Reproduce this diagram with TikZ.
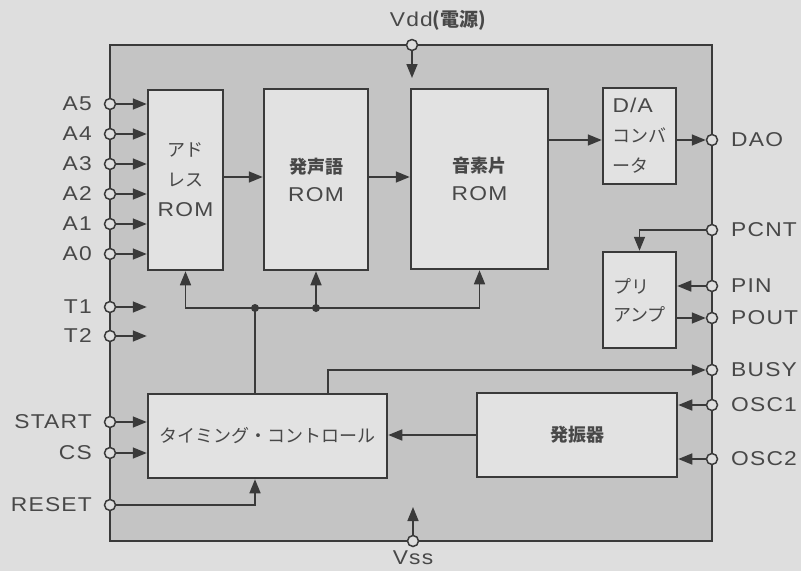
\documentclass[tikz,border=0pt]{standalone}
\usepackage{fontspec}
\setmainfont{Liberation Sans}[LetterSpace=6,FakeStretch=1.14]
\newfontfamily\jp{Noto Sans CJK JP}
\usepackage{tikz}
\usetikzlibrary{arrows.meta}
\definecolor{paper}{RGB}{222,222,222}
\definecolor{chipbg}{RGB}{196,196,196}
\definecolor{boxbg}{RGB}{226,226,226}
\definecolor{ink}{RGB}{58,58,58}
\definecolor{txt}{RGB}{72,72,72}

\tikzset{
  term/.style={circle,draw=ink,fill=paper,line width=1.5pt,minimum size=11pt,inner sep=0pt},
  blk/.style={draw=ink,fill=boxbg,line width=2.5pt,inner sep=0pt,text=txt,
    font=\jp\fontsize{18}{30}\selectfont},
  wire/.style={ink,line width=1.6pt},
  arr/.style={wire,-{Triangle[length=14pt,width=11pt]}},
  lbl/.style={text=txt,font=\fontsize{20}{20}\selectfont,inner sep=0pt},
}

\begin{document}
\begin{tikzpicture}[x=1pt,y=-1pt]
\useasboundingbox (0,0) rectangle (801,571);
\fill[paper] (0,0) rectangle (801,571);
% chip outline
\draw[wire,fill=chipbg] (110,45) rectangle (712,541);

% blocks
\node[blk,minimum width=75pt,minimum height=180pt,align=center] (addr) at (185.5,180)
  {アド\\レス\\{\rmfamily\fontsize{20}{30}\selectfont ROM}};
\node[blk,minimum width=104pt,minimum height=181pt,align=center] (wrd) at (316,179.5)
  {{\bfseries 発声語}\\[-2pt]{\rmfamily\fontsize{20}{30}\selectfont ROM}};
\node[blk,minimum width=137pt,minimum height=180pt,align=center] (snd) at (479.5,179)
  {{\bfseries 音素片}\\[-2pt]{\rmfamily\fontsize{20}{30}\selectfont ROM}};
\node[blk,minimum width=73pt,minimum height=96pt,align=left] (da) at (639.5,136)
  {{\rmfamily\fontsize{20}{30}\selectfont D/A}\\コンバ\\ータ};
\node[blk,minimum width=73pt,minimum height=96pt,align=left] (pre) at (639.5,300)
  {プリ\\[-2pt]アンプ};
\node[blk,minimum width=239pt,minimum height=84pt] (tc) at (267.5,436)
  {タイミング・コントロール};
\node[blk,minimum width=200pt,minimum height=84pt] (osc) at (577,435)
  {\bfseries 発振器};

% left side
\foreach \n/\y in {A5/104,A4/134,A3/164,A2/194,A1/224,A0/254}{
  \node[term] (\n) at (110,\y) {};
  \node[lbl,anchor=east] (l\n) at (92,\y) {\n};
  \draw[arr] (\n) -- (\n -| addr.west);
}
\foreach \n/\y in {T1/307,T2/336}{
  \node[term] (\n) at (110,\y) {};
  \node[lbl,anchor=east] (l\n) at (92,\y) {\n};
  \draw[arr] (\n) -- (\n -| addr.west);
}
\foreach \n/\y in {START/422,CS/453}{
  \node[term] (\n) at (110,\y) {};
  \node[lbl,anchor=east] (l\n) at (92,\y) {\n};
  \draw[arr] (\n) -- (\n -| tc.west);
}
\node[term] (RESET) at (110,505) {};
\node[lbl,anchor=east] (lRESET) at (92,505) {RESET};

% right side
\foreach \n/\y in {DAO/140,PCNT/230,PIN/286,POUT/318,BUSY/370,OSC1/405,OSC2/459}{
  \node[term] (\n) at (712,\y) {};
  \node[lbl,anchor=west] (l\n) at (731,\y) {\n};
}

% supply
\node[term] (vdd) at (412,45) {};
\node[lbl] (lvdd) at (438,20) {Vdd{\jp\bfseries\fontsize{19}{20}\selectfont (電源)}};
\coordinate (vddin) at (412,78);
\draw[arr] (vdd) -- (vddin);
\node[term] (vss) at (413,541) {};
\node[lbl] (lvss) at (413,558) {Vss};
\coordinate (vssin) at (413,507);
\draw[arr] (vss) -- (vssin);

% data path
\draw[arr] (addr.east |- 0,177) -- (wrd.west |- 0,177);
\draw[arr] (wrd.east |- 0,177) -- (snd.west |- 0,177);
\draw[arr] (snd.east |- DAO) -- (da.west |- DAO);
\draw[arr] (da.east |- DAO) -- (DAO);
\draw[arr] (PCNT) -| (pre.north);
\draw[arr] (PIN) -- (PIN -| pre.east);
\draw[arr] (pre.east |- POUT) -- (POUT);

% control bus
\coordinate (bus) at (255,308);
\draw[wire] (bus |- tc.north) -- (bus);
\draw[arr] (bus) -| (addr.south);
\draw[arr] (bus) -| (snd.south);
\draw[arr] (bus -| wrd.south) -- (wrd.south);
\fill[ink] (bus) circle (4pt) (bus -| wrd.south) circle (4pt);
\draw[arr] (RESET) -| (bus |- tc.south);
\coordinate (busyout) at (328,394);
\draw[arr] (busyout) |- (BUSY);
\draw[arr] (OSC1) -- (OSC1 -| osc.east);
\draw[arr] (OSC2) -- (OSC2 -| osc.east);
\draw[arr] (osc.west) -- (osc.west -| tc.east);
\end{tikzpicture}
\end{document}
